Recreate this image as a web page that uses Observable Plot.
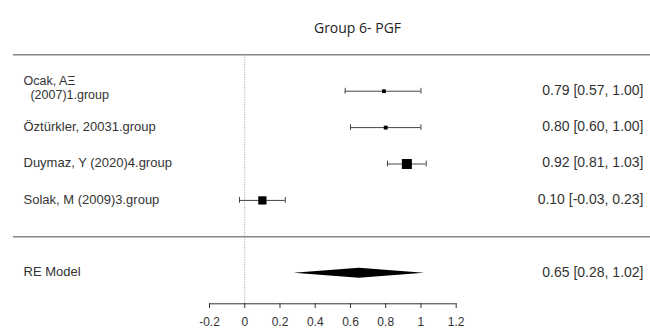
<!DOCTYPE html>
<html>
<head>
<meta charset="utf-8">
<script src="https://cdn.jsdelivr.net/npm/d3@7"></script>
<script src="https://cdn.jsdelivr.net/npm/@observablehq/plot@0.6"></script>
<style>
  html, body { margin: 0; padding: 0; background: #fff; }
  svg text { white-space: pre; }
</style>
</head>
<body>
<div id="chart"></div>
<script>
// ---- data ----
const title = "Group 6- PGF";
const studyLabels = ["Ocak, AΞ\n  (2007)1.group", "Öztürkler, 20031.group", "Duymaz, Y (2020)4.group", "Solak, M (2009)3.group"];
const studyRows = [4, 3, 2, 1];
const estimates = [0.79, 0.80, 0.92, 0.10];
const lowers = [0.57, 0.60, 0.81, -0.03];
const uppers = [1.00, 1.00, 1.03, 0.23];
const weights = [15, 15.5, 40, 33];
const modelLabel = "RE Model";
const modelRow = -1;
const modelEst = 0.65;
const modelLo = 0.28;
const modelHi = 1.02;
const xTicks = [-0.2, 0, 0.2, 0.4, 0.6, 0.8, 1, 1.2];
const topRow = 5;
const sepRow = 0;
const yBottom = -1.84;

// ---- derived tables ----
const fmt = v => v.toFixed(2);
const maxW = d3.max(weights);
const studies = studyLabels.map((label, i) => ({
  label, row: studyRows[i], est: estimates[i], lo: lowers[i], hi: uppers[i],
  side: 10 * weights[i] / maxW,
  text: `${fmt(estimates[i])} [${fmt(lowers[i])}, ${fmt(uppers[i])}]`
}));
const caps = studies.flatMap(d => [{x: d.lo, row: d.row}, {x: d.hi, row: d.row}]);
const h = 0.137;
const diamond = [
  {x: modelLo, y1: modelRow, y2: modelRow},
  {x: modelEst, y1: modelRow - h, y2: modelRow + h},
  {x: modelHi, y1: modelRow, y2: modelRow}
];
const modelText = [{label: modelLabel, row: modelRow, text: `${fmt(modelEst)} [${fmt(modelLo)}, ${fmt(modelHi)}]`}];

const chart = Plot.plot({
  width: 650,
  height: 335,
  marginTop: 0, marginRight: 0, marginBottom: 32, marginLeft: 0,
  x: {domain: [xTicks[0], xTicks[xTicks.length - 1]], range: [209, 455.7], ticks: xTicks,
      tickFormat: d => String(+d.toFixed(1)), tickSize: 5, tickPadding: 9, label: null},
  y: {domain: [yBottom, topRow], range: [303.3, 54.3], axis: null},
  r: {type: "identity"},
  style: {fontFamily: "Liberation Sans, Arial, sans-serif", fontSize: "12px", color: "#333", background: "#fff"},
  marks: [
    Plot.text([title], {frameAnchor: "top", dx: 32, dy: 28, lineAnchor: "middle",
      fontFamily: "Open Sans, sans-serif", fontSize: 14, fill: "#222"}),
    Plot.ruleY([topRow, sepRow], {insetLeft: 13, stroke: "#888", strokeWidth: 1.6}),
    Plot.ruleX([0], {y1: topRow, y2: yBottom, stroke: "#999", strokeDasharray: "1,1.5"}),
    Plot.ruleY([yBottom], {x1: xTicks[0], x2: xTicks[xTicks.length - 1], stroke: "#333"}),
    Plot.ruleY(studies, {y: "row", x1: "lo", x2: "hi", stroke: "#444"}),
    Plot.ruleX(caps, {x: "x", y1: d => d.row - 0.08, y2: d => d.row + 0.08, stroke: "#444"}),
    Plot.dot(studies, {x: "est", y: "row", symbol: "square", fill: "#000", stroke: null,
      r: d => d.side / Math.sqrt(Math.PI)}),
    Plot.areaY(diamond, {x: "x", y1: "y1", y2: "y2", fill: "#000", curve: "linear"}),
    Plot.text(studies.filter(d => !d.label.includes("\n")), {y: "row", text: "label", frameAnchor: "left",
      dx: 23, dy: -1, textAnchor: "start", fontSize: 13, fill: "#333"}),
    Plot.text(studies.filter(d => d.label.includes("\n")), {y: "row", text: "label", frameAnchor: "left",
      dx: 23, dy: -3.5, textAnchor: "start", fontSize: 12.5, lineHeight: 1.12, fill: "#333"}),
    Plot.text(modelText, {y: "row", text: "label", frameAnchor: "left",
      dx: 23, dy: -1, textAnchor: "start", fontSize: 13, fill: "#333"}),
    Plot.text(studies.concat(modelText), {y: "row", text: "text", frameAnchor: "right",
      dx: -7, dy: -1, textAnchor: "end", fontSize: 14, fill: "#333"})
  ]
});
document.getElementById("chart").appendChild(chart);
</script>
</body>
</html>
